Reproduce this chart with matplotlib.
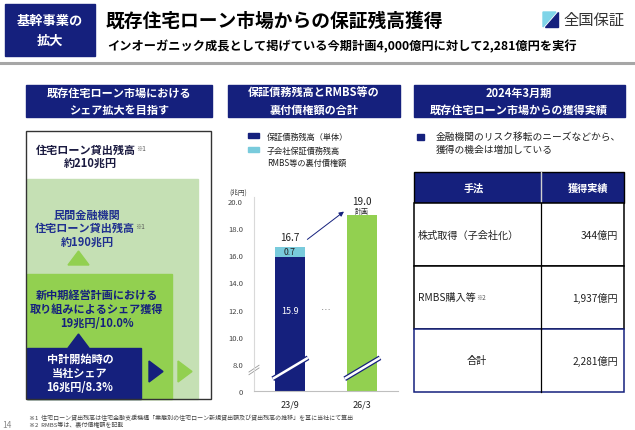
import numpy as np
import matplotlib.pyplot as plt
from matplotlib.patches import Rectangle, Polygon

plt.rcParams['font.family'] = ['Noto Sans CJK JP', 'DejaVu Sans']

NAVY = '#15207d'
CYAN = '#79cbdc'
GREEN = '#92d050'
LIGHT_GREEN = '#c5e0b4'
TEXT = '#222222'

# chart data
categories = ['23/9', '26/3']
guarantee_single = [15.9, 0.0]      # 保証債務残高（単体）
subsidiary_rmbs = [0.7, 0.0]        # 子会社保証債務残高 / RMBS等の裏付債権額
plan_value = [0.0, 19.0]            # 計画
total_labels = ['16.7', '19.0']
legend_labels = ['保証債務残高（単体）', '子会社保証債務残高\nRMBS等の裏付債権額']
ytick_values = [6, 8, 10, 12, 14, 16, 18, 20]
ytick_labels = ['0', '8.0', '10.0', '12.0', '14.0', '16.0', '18.0', '20.0']

# left panel data
market_total = '約210兆円'
private_total = '約190兆円'
share_gain = '19兆円/10.0%'
share_start = '16兆円/8.3%'

# table data
methods = ['株式取得（子会社化）', 'RMBS購入等', '合計']
amounts = [344, 1937, 2281]

fig = plt.figure(figsize=(6.35, 4.31), dpi=100)
bg = fig.add_axes([0, 0, 1, 1])
bg.set_xlim(0, 635)
bg.set_ylim(431, 0)
bg.axis('off')


def box(x0, y0, x1, y1, **kw):
    bg.add_patch(Rectangle((x0, y0), x1 - x0, y1 - y0, **kw))


# ---- header
box(5, 5, 95, 57, color=NAVY)
bg.text(50, 31, '基幹事業の\n拡大', color='white', fontsize=9.5, weight='bold',
        ha='center', va='center', linespacing=1.5)
bg.text(106, 21, '既存住宅ローン市場からの保証残高獲得', fontsize=13.5, weight='bold',
        color='black', va='center')
bg.text(107, 47, 'インオーガニック成長として掲げている今期計画4,000億円に対して2,281億円を実行',
        fontsize=8.8, weight='bold', color='black', va='center')
bg.plot([0, 635], [64, 64], color='#a6a6a6', lw=2.2)
# logo
bg.add_patch(Polygon([[543, 13], [556, 13], [543, 28]], color='#7fd4e8'))
bg.add_patch(Polygon([[558, 13], [558, 28], [545, 28]], color=NAVY))
bg.text(563, 21, '全国保証', fontsize=11, color='#333333', va='center')

# ---- left panel
box(26, 86, 212, 118, color=NAVY)
bg.text(119, 102, '既存住宅ローン市場における\nシェア拡大を目指す', color='white',
        fontsize=8, weight='bold', ha='center', va='center', linespacing=1.4)
box(26, 132, 211, 400, facecolor='white', edgecolor='none')
box(27, 180, 198, 400, color=LIGHT_GREEN)
box(27, 275, 172, 400, color=GREEN)
box(27, 349, 141, 400, color=NAVY)
box(26, 132, 211, 400, facecolor='none', edgecolor='#333333', lw=1)

t = bg.text(86, 150, '住宅ローン貸出残高', fontsize=8, weight='bold', color='#1a1a40',
            ha='center', va='center')
bg.annotate('※1', xy=(1, 0.85), xycoords=t, fontsize=4.5, color='#555555',
            ha='left', va='top')
bg.text(90, 163, market_total, fontsize=8, weight='bold', color='#1a1a40',
        ha='center', va='center')

bg.text(87, 215, '民間金融機関', fontsize=8, weight='bold', color='#1f2f8f',
        ha='center', va='center')
t = bg.text(85, 228, '住宅ローン貸出残高', fontsize=8, weight='bold', color='#1f2f8f',
            ha='center', va='center')
bg.annotate('※1', xy=(1, 0.85), xycoords=t, fontsize=4.5, color='#555555',
            ha='left', va='top')
bg.text(87, 242, private_total, fontsize=8, weight='bold', color='#1f2f8f',
        ha='center', va='center')
bg.add_patch(Polygon([[68, 266], [89, 266], [78.5, 252]], color=GREEN))

bg.text(97, 295, '新中期経営計画における', fontsize=8, weight='bold', color=NAVY,
        ha='center', va='center')
bg.text(97, 309, '取り組みによるシェア獲得', fontsize=8, weight='bold', color=NAVY,
        ha='center', va='center')
bg.text(97, 324, share_gain, fontsize=8, weight='bold', color=NAVY,
        ha='center', va='center')
bg.add_patch(Polygon([[68, 349], [89, 349], [78.5, 335]], color=NAVY))

bg.text(80, 359, '中計開始時の', fontsize=8, weight='bold', color='white',
        ha='center', va='center')
bg.text(80, 374, '当社シェア', fontsize=8, weight='bold', color='white',
        ha='center', va='center')
bg.text(80, 388, share_start, fontsize=8, weight='bold', color='white',
        ha='center', va='center')
bg.add_patch(Polygon([[149, 362], [149, 383], [163, 372.5]], color=NAVY))
bg.add_patch(Polygon([[178, 362], [178, 383], [192, 372.5]], color=GREEN))

# footnotes
bg.text(29, 418, '※1  住宅ローン貸出残高は住宅金融支援機構「業態別の住宅ローン新規貸出額及び貸出残高の推移」を基に当社にて算出',
        fontsize=4.3, color='#444444', va='center')
bg.text(29, 424, '※2  RMBS等は、裏付債権額を記載', fontsize=4.3, color='#444444', va='center')
bg.text(2, 426, '14', fontsize=6, color='#888888', va='center')

# ---- middle panel header and legend
box(228, 86, 400, 118, color=NAVY)
bg.text(314, 102, '保証債務残高とRMBS等の\n裏付債権額の合計', color='white',
        fontsize=8, weight='bold', ha='center', va='center', linespacing=1.4)
legend_colors = [NAVY, CYAN]
legend_y = [136, 150]
for lab, col, yy in zip(legend_labels, legend_colors, legend_y):
    box(248, yy - 2.5, 259, yy + 2.5, color=col)
    bg.text(267, yy - 3.2, lab, fontsize=5.9, color=TEXT, va='top', linespacing=1.45)
bg.text(229, 193, '(兆円)', fontsize=4.8, color='#444444', va='center')

# ---- right panel
box(414, 86, 625, 118, color=NAVY)
bg.text(519, 102, '2024年3月期\n既存住宅ローン市場からの獲得実績', color='white',
        fontsize=8, weight='bold', ha='center', va='center', linespacing=1.4)
box(417, 135, 424, 141, color=NAVY)
bg.text(436, 132, '金融機関のリスク移転のニーズなどから、\n獲得の機会は増加している',
        fontsize=7.0, color=TEXT, va='top', linespacing=1.4)

tx0, tx1, tdiv = 414, 624, 541
row_edges = [173, 204, 267, 330, 393]
box(tx0, row_edges[0], tx1, row_edges[1], facecolor=NAVY, edgecolor='black', lw=1)
bg.plot([tdiv, tdiv], [row_edges[0], row_edges[1]], color='#d0d0d0', lw=1)
hy = (row_edges[0] + row_edges[1]) / 2
bg.text(474, hy, '手法', color='white', fontsize=7.3, weight='bold', ha='center', va='center')
bg.text(588, hy, '獲得実績', color='white', fontsize=7.3, weight='bold', ha='center', va='center')
for i, (m, a) in enumerate(zip(methods, amounts)):
    y0, y1 = row_edges[i + 1], row_edges[i + 2]
    ec = NAVY if i == len(methods) - 1 else 'black'
    box(tx0, y0, tx1, y1, facecolor='white', edgecolor=ec, lw=1.1, zorder=2 + i)
    bg.plot([tdiv, tdiv], [y0, y1], color='black', lw=0.9, zorder=6)
    ym = (y0 + y1) / 2
    if i == len(methods) - 1:
        bg.text(477, ym, m, fontsize=7.3, color=TEXT, ha='center', va='center', zorder=7)
    else:
        t = bg.text(418, ym, m, fontsize=7.3, color=TEXT, ha='left', va='center', zorder=7)
        if m.startswith('RMBS'):
            bg.annotate('※2', xy=(1, 0.9), xycoords=t, fontsize=4.5, color='#555555',
                        ha='left', va='top', zorder=7)
    bg.text(618, ym, f'{a:,}億円', fontsize=7.3, color=TEXT, ha='right', va='center', zorder=7)

# ---- bar chart
ax = fig.add_axes([254 / 635, 1 - 392 / 431, 144 / 635, 194 / 431])
ax.set_facecolor('none')
x = np.arange(len(categories))
w = 0.42
ax.bar(x, guarantee_single, w, color=NAVY)
ax.bar(x, subsidiary_rmbs, w, bottom=guarantee_single, color=CYAN)
ax.bar(x, plan_value, w, color=GREEN)
ax.set_xlim(-0.5, 1.5)
ax.set_ylim(6, 20.3)
ax.set_yticks(ytick_values)
ax.set_yticklabels(ytick_labels)
ax.set_xticks(x)
ax.set_xticklabels(categories)
ax.tick_params(axis='y', length=0, pad=8, labelsize=5.5, labelcolor='#444444')
ax.tick_params(axis='x', length=0, pad=6, labelsize=6.5, labelcolor=TEXT)
for s in ['top', 'right']:
    ax.spines[s].set_visible(False)
ax.spines['left'].set_color('#d9d9d9')
ax.spines['bottom'].set_color('#bfbfbf')

tops = [g + s + p for g, s, p in zip(guarantee_single, subsidiary_rmbs, plan_value)]
ax.annotate(total_labels[0], (x[0], tops[0]), xytext=(0, 4), textcoords='offset points',
            ha='center', va='bottom', fontsize=7.2, color=TEXT)
ax.text(x[0], guarantee_single[0] + subsidiary_rmbs[0] / 2, f'{subsidiary_rmbs[0]:.1f}',
        ha='center', va='center', fontsize=6.3, color=TEXT)
ax.text(x[0], (8 + guarantee_single[0]) / 2, f'{guarantee_single[0]:.1f}',
        ha='center', va='center', fontsize=6.5, color='white')
ax.annotate(total_labels[1], (x[1], tops[1]), xytext=(0, 6), textcoords='offset points',
            ha='center', va='bottom', fontsize=7.2, color=TEXT)
ax.annotate('計画', (x[1], tops[1]), xytext=(0, -0.5), textcoords='offset points',
            ha='center', va='bottom', fontsize=5, color=TEXT)
ax.text(0.5, 12.0, '…', ha='center', va='center', fontsize=7, color='#666666')
ax.annotate('', xy=(x[1] - w / 2 - 0.01, tops[1] + 0.35),
            xytext=(x[0] + w / 2 + 0.0, tops[0] + 0.45),
            arrowprops=dict(arrowstyle='-|>', color=NAVY, lw=0.7, mutation_scale=7))

# break marks
for xi in x:
    bx = [xi - w / 2 - 0.03, xi + w / 2 + 0.04]
    by = [6.9, 8.45]
    ax.plot(bx, by, color=NAVY, lw=3.6, solid_capstyle='butt', clip_on=False)
    ax.plot(bx, by, color='white', lw=1.8, solid_capstyle='butt', clip_on=False)
trans = ax.get_yaxis_transform()
ax.plot([-0.035, 0.035], [7.3, 7.8], color='white', lw=2.5, transform=trans, clip_on=False)
ax.plot([-0.035, 0.035], [7.2, 7.7], color='#999999', lw=0.6, transform=trans, clip_on=False)
ax.plot([-0.035, 0.035], [7.4, 7.9], color='#999999', lw=0.6, transform=trans, clip_on=False)

fig.savefig('out.png', dpi=100)
